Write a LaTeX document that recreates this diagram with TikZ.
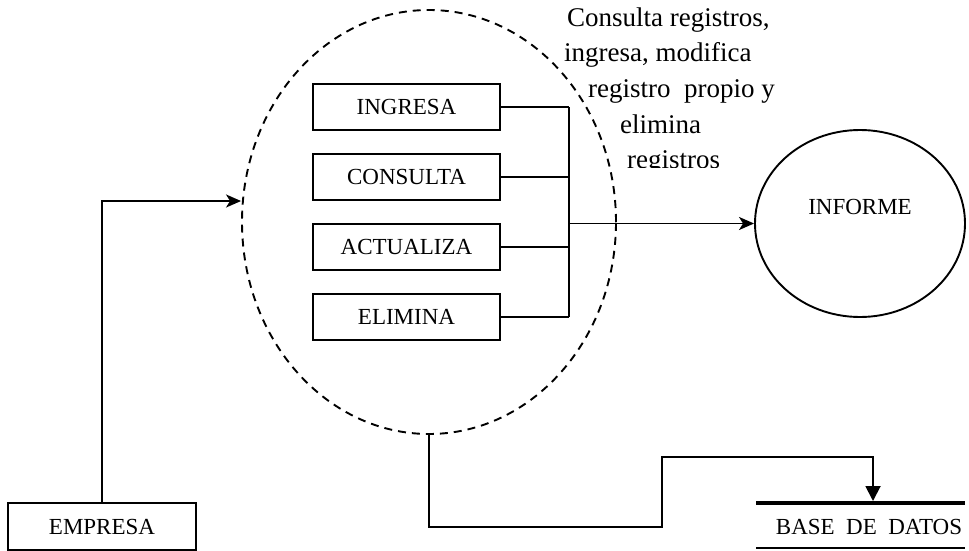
\documentclass[tikz,border=0pt]{standalone}
\usepackage{fontspec}
\setmainfont{Liberation Serif}
\usetikzlibrary{arrows.meta,shapes.geometric}
\tikzset{
  ln/.style={line width=1.9pt},
  boxnode/.style={draw, line width=1.9pt, minimum width=187pt, minimum height=46pt, inner sep=0pt, font=\fontsize{23}{27}\selectfont},
  small/.style={font=\fontsize{23}{27}\selectfont, inner sep=0pt},
  note/.style={font=\fontsize{27}{32}\selectfont, inner sep=0pt, anchor=base west},
  arr/.style={ln, -{Stealth[length=15pt,width=13pt,inset=4pt]}},
  tri/.style={ln, -{Triangle[length=15pt,width=15pt]}}
}
\begin{document}
\begin{tikzpicture}[x=1pt,y=-1pt]
\useasboundingbox (0,0) rectangle (969,551);
% dashed process ellipse
\node[draw, ellipse, dash pattern=on 8pt off 6pt, line width=1.9pt, minimum width=374pt, minimum height=424pt, inner sep=0pt] (proc) at (429,222) {};
% boxes
\node[boxnode] (ingresa) at (406.5,107) {INGRESA};
\node[boxnode] (consulta) at (406.5,177) {CONSULTA};
\node[boxnode] (actualiza) at (406.5,247) {ACTUALIZA};
\node[boxnode] (elimina) at (406.5,317) {ELIMINA};
\coordinate (b1) at (569,107);
\coordinate (b2) at (569,177);
\coordinate (b3) at (569,247);
\coordinate (b4) at (569,317);
\coordinate (bo) at (569,223.5);
\draw[ln] (ingresa.east) -- (b1);
\draw[ln] (consulta.east) -- (b2);
\draw[ln] (actualiza.east) -- (b3);
\draw[ln] (elimina.east) -- (b4);
\draw[ln] (b1) -- (b4);
% informe
\node[draw, ellipse, line width=1.9pt, minimum width=210pt, minimum height=187pt, inner sep=0pt] (informe) at (860,223.5) {};
\node[small] (inftxt) at (860,207) {INFORME};
\draw[arr] (bo) -- (informe.west);
% empresa
\node[boxnode, minimum width=188pt, minimum height=47pt] (empresa) at (102,526.5) {EMPRESA};
\coordinate (e1) at (102,201);
\draw[arr] (empresa.north) -- (e1) -- (proc.west |- e1);
% base de datos
\coordinate (t1) at (756,503);
\coordinate (t2) at (965,503);
\coordinate (u1) at (756,548);
\coordinate (u2) at (965,548);
\draw[line width=4pt] (t1) -- (t2);
\draw[line width=2.2pt] (u1) -- (u2);
\node[small] (base) at (869,527) {BASE\ \ DE\ \ DATOS};
\coordinate (c1) at (429,527);
\coordinate (c2) at (662,527);
\coordinate (c3) at (662,457);
\coordinate (c4) at (873,457);
\coordinate (c5) at (873,501);
\draw[tri] (proc.south) -- (c1) -- (c2) -- (c3) -- (c4) -- (c5);
% annotation
\begin{scope}
\clip (540,0) rectangle (820,167);
\node[note] (n1) at (567,27) {Consulta registros,};
\node[note] (n2) at (564,62) {ingresa, modifica};
\node[note] (n3) at (588,97) {registro\ \ propio y};
\node[note] (n4) at (620,133) {elimina};
\node[note] (n5) at (627,168) {registros};
\end{scope}
\end{tikzpicture}
\end{document}
